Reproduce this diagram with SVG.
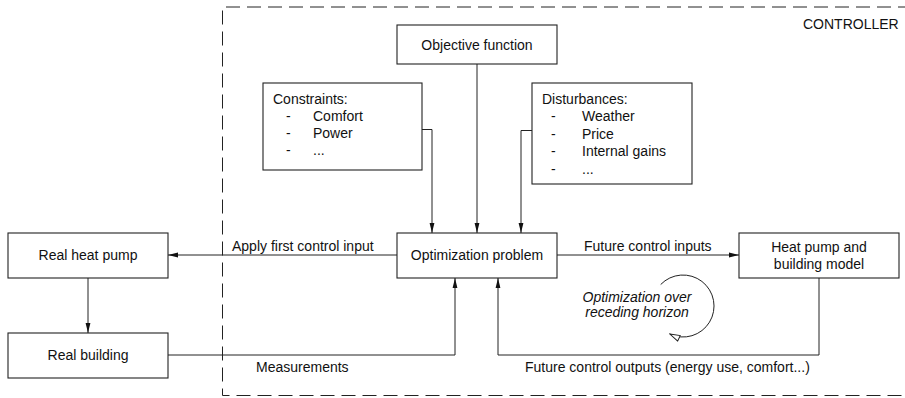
<svg xmlns="http://www.w3.org/2000/svg" width="905" height="398" viewBox="0 0 905 398">
  <style>
    .box { fill: #ffffff; stroke: #222222; stroke-width: 1.1; }
    .wire { fill: none; stroke: #222222; stroke-width: 1; }
    .frame { fill: none; stroke: #222222; stroke-width: 1; stroke-dasharray: 14 7; }
    text { font-family: "Liberation Sans", Arial, sans-serif; font-size: 14px; fill: #111111; }
    .mid { text-anchor: middle; }
    .it { font-style: italic; }
  </style>
  <defs>
    <marker id="arrow" viewBox="0 0 10 6" refX="10" refY="3" markerWidth="10" markerHeight="6" markerUnits="userSpaceOnUse" orient="auto">
      <path d="M0,0.6 L10,3 L0,5.4 z" fill="#111111"/>
    </marker>
    <marker id="openArrow" viewBox="0 0 12 8" refX="11" refY="4" markerWidth="12" markerHeight="8" markerUnits="userSpaceOnUse" orient="auto">
      <path d="M1,1 L11,4 L1,7 z" fill="#ffffff" stroke="#222222" stroke-width="1"/>
    </marker>
  </defs>

  <!-- controller boundary (open on the right) -->
  <g id="controller">
    <path class="frame" d="M912 7 H222.5 V395.5 H912"/>
    <text x="803" y="28.5">CONTROLLER</text>
  </g>

  <g id="objective">
    <rect class="box" x="397" y="25" width="160" height="39"/>
    <text class="mid" x="477" y="49.5">Objective function</text>
  </g>

  <g id="constraints">
    <rect class="box" x="263" y="83" width="159" height="87"/>
    <text x="273" y="104">Constraints:</text>
    <text x="286" y="121">-</text><text x="313" y="121">Comfort</text>
    <text x="286" y="138">-</text><text x="313" y="138">Power</text>
    <text x="286" y="155">-</text><text x="313" y="155">...</text>
  </g>

  <g id="disturbances">
    <rect class="box" x="532" y="83" width="160" height="101"/>
    <text x="542" y="104">Disturbances:</text>
    <text x="551" y="121">-</text><text x="582" y="121">Weather</text>
    <text x="551" y="138.5">-</text><text x="582" y="138.5">Price</text>
    <text x="551" y="156">-</text><text x="582" y="156">Internal gains</text>
    <text x="551" y="173.5">-</text><text x="582" y="173.5">...</text>
  </g>

  <g id="optimization">
    <rect class="box" x="397" y="233" width="160" height="45"/>
    <text class="mid" x="477" y="260">Optimization problem</text>
  </g>

  <g id="model">
    <rect class="box" x="739" y="233" width="160" height="45"/>
    <text class="mid" x="819" y="252">Heat pump and</text>
    <text class="mid" x="819" y="268.5">building model</text>
  </g>

  <g id="heat-pump">
    <rect class="box" x="8" y="233" width="160" height="45"/>
    <text class="mid" x="88" y="260">Real heat pump</text>
  </g>

  <g id="building">
    <rect class="box" x="8" y="333" width="160" height="45"/>
    <text class="mid" x="88" y="360">Real building</text>
  </g>

  <g id="connectors">
    <path class="wire" marker-end="url(#arrow)" d="M422 129.5 H432 V233"/>
    <path class="wire" marker-end="url(#arrow)" d="M477 64 V233"/>
    <path class="wire" marker-end="url(#arrow)" d="M532 130.5 H521 V233"/>
    <path class="wire" marker-end="url(#arrow)" d="M397 255 H168"/>
    <path class="wire" marker-end="url(#arrow)" d="M557 255 H739"/>
    <path class="wire" marker-end="url(#arrow)" d="M88 278 V333"/>
    <path class="wire" marker-end="url(#arrow)" d="M168 355 H455 V278"/>
    <path class="wire" marker-end="url(#arrow)" d="M819 278 V355 H498 V278"/>
    <path class="wire" marker-end="url(#openArrow)" d="M660.7 284.5 A31 31 0 1 1 669.9 334.1"/>
  </g>

  <g id="labels">
    <text x="232" y="251">Apply first control input</text>
    <text x="584" y="251">Future control inputs</text>
    <text x="256" y="372">Measurements</text>
    <text x="525" y="372">Future control outputs (energy use, comfort...)</text>
    <text class="mid it" x="637" y="301.5">Optimization over</text>
    <text class="mid it" x="637" y="317">receding horizon</text>
  </g>
</svg>
